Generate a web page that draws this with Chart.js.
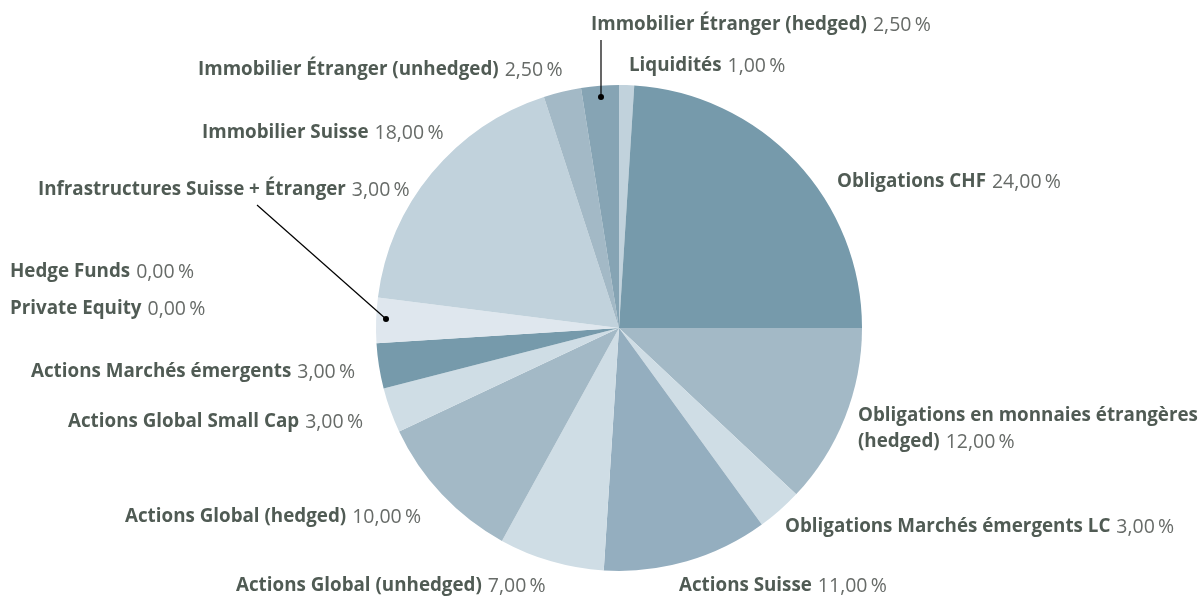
<!DOCTYPE html>
<html>
<head>
<meta charset="utf-8">
<script src="https://cdn.jsdelivr.net/npm/chart.js@4.4.1/dist/chart.umd.min.js"></script>
<style>
  html, body { margin: 0; padding: 0; background: #fff; }
  #wrap { width: 1200px; height: 596px; position: relative; }
</style>
</head>
<body>
<div id="wrap"><canvas id="pie"></canvas></div>
<script>
const categories = [
  "Liquidités",
  "Obligations CHF",
  "Obligations en monnaies étrangères (hedged)",
  "Obligations Marchés émergents LC",
  "Actions Suisse",
  "Actions Global (unhedged)",
  "Actions Global (hedged)",
  "Actions Global Small Cap",
  "Actions Marchés émergents",
  "Private Equity",
  "Hedge Funds",
  "Infrastructures Suisse + Étranger",
  "Immobilier Suisse",
  "Immobilier Étranger (unhedged)",
  "Immobilier Étranger (hedged)"
];
const weights = [1, 24, 12, 3, 11, 7, 10, 3, 3, 0, 0, 3, 18, 2.5, 2.5];
const sliceColors = [
  "#c1d2dc", "#769aab", "#a3b9c6", "#cfdde5", "#94aebf",
  "#cfdde5", "#a3b9c6", "#cfdde5", "#769aab", "#dfe7ee",
  "#dfe7ee", "#dfe7ee", "#c1d2dc", "#a3b9c6", "#86a4b4"
];

function formatPct(v) {
  return v.toFixed(2).replace(".", ",") + "\u2009%";
}

// label placement: [x, y] of text start (middle baseline), one per category
const labelPos = [
  [629, 66], [837, 182], [858, 416], [785, 527], [679, 586],
  [236, 586], [125, 517], [68, 422], [31, 372], [10, 309],
  [10, 272], [38, 190], [202, 133], [198, 70], [591, 25]
];
// leader lines: index -> [x1, y1, x2, y2] (x2,y2 gets the dot)
const leaders = {
  14: [601, 40, 601, 97],
  11: [257, 205, 386, 319]
};

const NAME_COLOR = "#505b54";
const VALUE_COLOR = "#676b68";
const FONT = "'Open Sans', 'Noto Sans', sans-serif";

const labelPlugin = {
  id: "labels",
  afterDraw(chart) {
    const ctx = chart.ctx;
    ctx.save();
    ctx.textBaseline = "middle";
    Object.keys(leaders).forEach(k => {
      const [x1, y1, x2, y2] = leaders[k];
      ctx.strokeStyle = "#000";
      ctx.lineWidth = 1.2;
      ctx.beginPath();
      ctx.moveTo(x1, y1);
      ctx.lineTo(x2, y2);
      ctx.stroke();
      ctx.fillStyle = "#000";
      ctx.beginPath();
      ctx.arc(x2, y2, 3, 0, Math.PI * 2);
      ctx.fill();
    });
    categories.forEach((name, i) => {
      let [x, y] = labelPos[i];
      const value = formatPct(weights[i]);
      let lines;
      if (i === 2) {
        lines = [["Obligations en monnaies étrangères", null], ["(hedged)", value]];
      } else {
        lines = [[name, value]];
      }
      lines.forEach((ln, j) => {
        const yy = y + j * 26;
        ctx.font = "bold 18.8px " + FONT;
        ctx.fillStyle = NAME_COLOR;
        ctx.fillText(ln[0], x, yy);
        if (ln[1]) {
          const w = ctx.measureText(ln[0]).width + 6;
          ctx.font = "19.5px " + FONT;
          ctx.fillStyle = VALUE_COLOR;
          ctx.fillText(ln[1], x + w, yy);
        }
      });
    });
    ctx.restore();
  }
};

new Chart(document.getElementById("pie"), {
  type: "pie",
  data: {
    labels: categories,
    datasets: [{
      data: weights,
      backgroundColor: sliceColors,
      borderWidth: 0
    }]
  },
  options: {
    responsive: true,
    maintainAspectRatio: false,
    animation: false,
    layout: {
      padding: { top: 85, bottom: 25, left: 38, right: 0 }
    },
    plugins: {
      legend: { display: false },
      tooltip: { enabled: false }
    }
  },
  plugins: [labelPlugin]
});
</script>
</body>
</html>
